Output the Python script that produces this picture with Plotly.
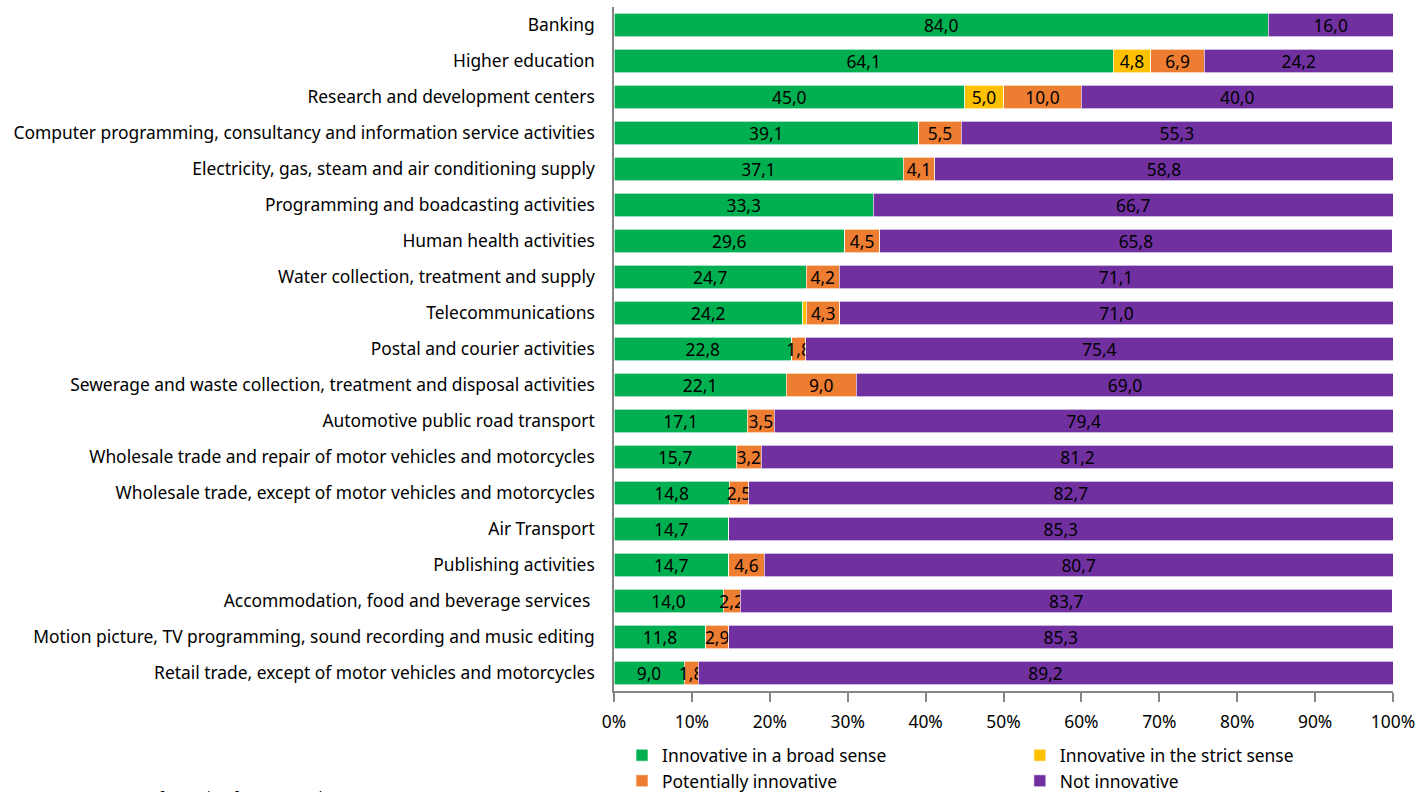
import plotly.graph_objects as go

# Sectors, top to bottom
sectors = [
    "Banking",
    "Higher education",
    "Research and development centers",
    "Computer programming, consultancy and information service activities",
    "Electricity, gas, steam and air conditioning supply",
    "Programming and boadcasting activities",
    "Human health activities",
    "Water collection, treatment and supply",
    "Telecommunications",
    "Postal and courier activities",
    "Sewerage and waste collection, treatment and disposal activities",
    "Automotive public road transport",
    "Wholesale trade and repair of motor vehicles and motorcycles",
    "Wholesale trade, except of motor vehicles and motorcycles",
    "Air Transport",
    "Publishing activities",
    "Accommodation, food and beverage services ",
    "Motion picture, TV programming, sound recording and music editing",
    "Retail trade, except of motor vehicles and motorcycles",
]

# Share of firms (%) per innovation category
broad = [84.0, 64.1, 45.0, 39.1, 37.1, 33.3, 29.6, 24.7, 24.2, 22.8, 22.1,
         17.1, 15.7, 14.8, 14.7, 14.7, 14.0, 11.8, 9.0]
strict = [0.0, 4.8, 5.0, 0.0, 0.0, 0.0, 0.0, 0.0, 0.5, 0.0, 0.0,
          0.0, 0.0, 0.0, 0.0, 0.0, 0.0, 0.0, 0.0]
potential = [0.0, 6.9, 10.0, 5.5, 4.1, 0.0, 4.5, 4.2, 4.3, 1.8, 9.0,
             3.5, 3.2, 2.5, 0.0, 4.6, 2.2, 2.9, 1.8]
not_innov = [16.0, 24.2, 40.0, 55.3, 58.8, 66.7, 65.8, 71.1, 71.0, 75.4, 69.0,
             79.4, 81.2, 82.7, 85.3, 80.7, 83.7, 85.3, 89.2]

x_ticks = list(range(0, 101, 10))

FONT = "Noto Sans"
SIZE = 17.4


def labels(values, min_shown=1.0):
    return [f"{v:.1f}".replace(".", ",") if v >= min_shown else "" for v in values]


series = [
    ("Innovative in a broad sense", broad, "#00B050", "legend"),
    ("Innovative in the strict sense", strict, "#FFC000", "legend2"),
    ("Potentially innovative", potential, "#ED7D31", "legend"),
    ("Not innovative", not_innov, "#7030A0", "legend2"),
]

fig = go.Figure()
for name, vals, color, leg in series:
    fig.add_trace(go.Bar(
        y=sectors,
        x=vals,
        name=name,
        orientation="h",
        marker=dict(color=color, line=dict(color="rgba(255,255,255,0.8)", width=0.8)),
        text=labels(vals),
        textposition="inside",
        insidetextanchor="middle",
        constraintext="none",
        textangle=0,
        textfont=dict(family=FONT, size=SIZE, color="#000000"),
        legend=leg,
    ))

legend_common = dict(
    orientation="v",
    yref="container",
    yanchor="top",
    y=0.069,
    xanchor="left",
    font=dict(family=FONT, size=SIZE, color="#000000"),
    bgcolor="rgba(0,0,0,0)",
    itemwidth=30,
    tracegroupgap=0,
    traceorder="normal",
)

fig.update_layout(
    width=1416,
    height=792,
    barmode="stack",
    bargap=0.36,
    plot_bgcolor="white",
    paper_bgcolor="white",
    margin=dict(l=614, r=23, t=7, b=101),
    font=dict(family=FONT, size=SIZE, color="#000000"),
    legend=dict(x=0.0103, **legend_common),
    legend2=dict(x=0.521, **legend_common),
    showlegend=True,
)

fig.update_xaxes(
    range=[0, 100],
    tickvals=x_ticks,
    ticktext=[f"{t}%" for t in x_ticks],
    showgrid=False,
    zeroline=False,
    showline=True,
    linecolor="#868686",
    linewidth=1.5,
    ticks="outside",
    ticklen=9,
    tickcolor="#868686",
    tickwidth=1.5,
    ticklabelstandoff=5,
    tickfont=dict(family=FONT, size=SIZE, color="#000000"),
    automargin=False,
    fixedrange=True,
)

fig.update_yaxes(
    categoryorder="array",
    categoryarray=sectors,
    autorange="reversed",
    showgrid=False,
    zeroline=False,
    showline=True,
    linecolor="#868686",
    linewidth=1.5,
    ticks="",
    ticklabelstandoff=14,
    tickfont=dict(family=FONT, size=SIZE, color="#000000"),
    automargin=False,
    fixedrange=True,
)

fig.add_annotation(
    text="DANE EDIT 2018 (Information for 2016 and 2017)",
    xref="paper", yref="paper",
    x=-0.764, y=-0.136,
    xanchor="left", yanchor="top",
    showarrow=False,
    font=dict(family=FONT, size=15, color="#000000"),
)

fig.write_html("out.html")
